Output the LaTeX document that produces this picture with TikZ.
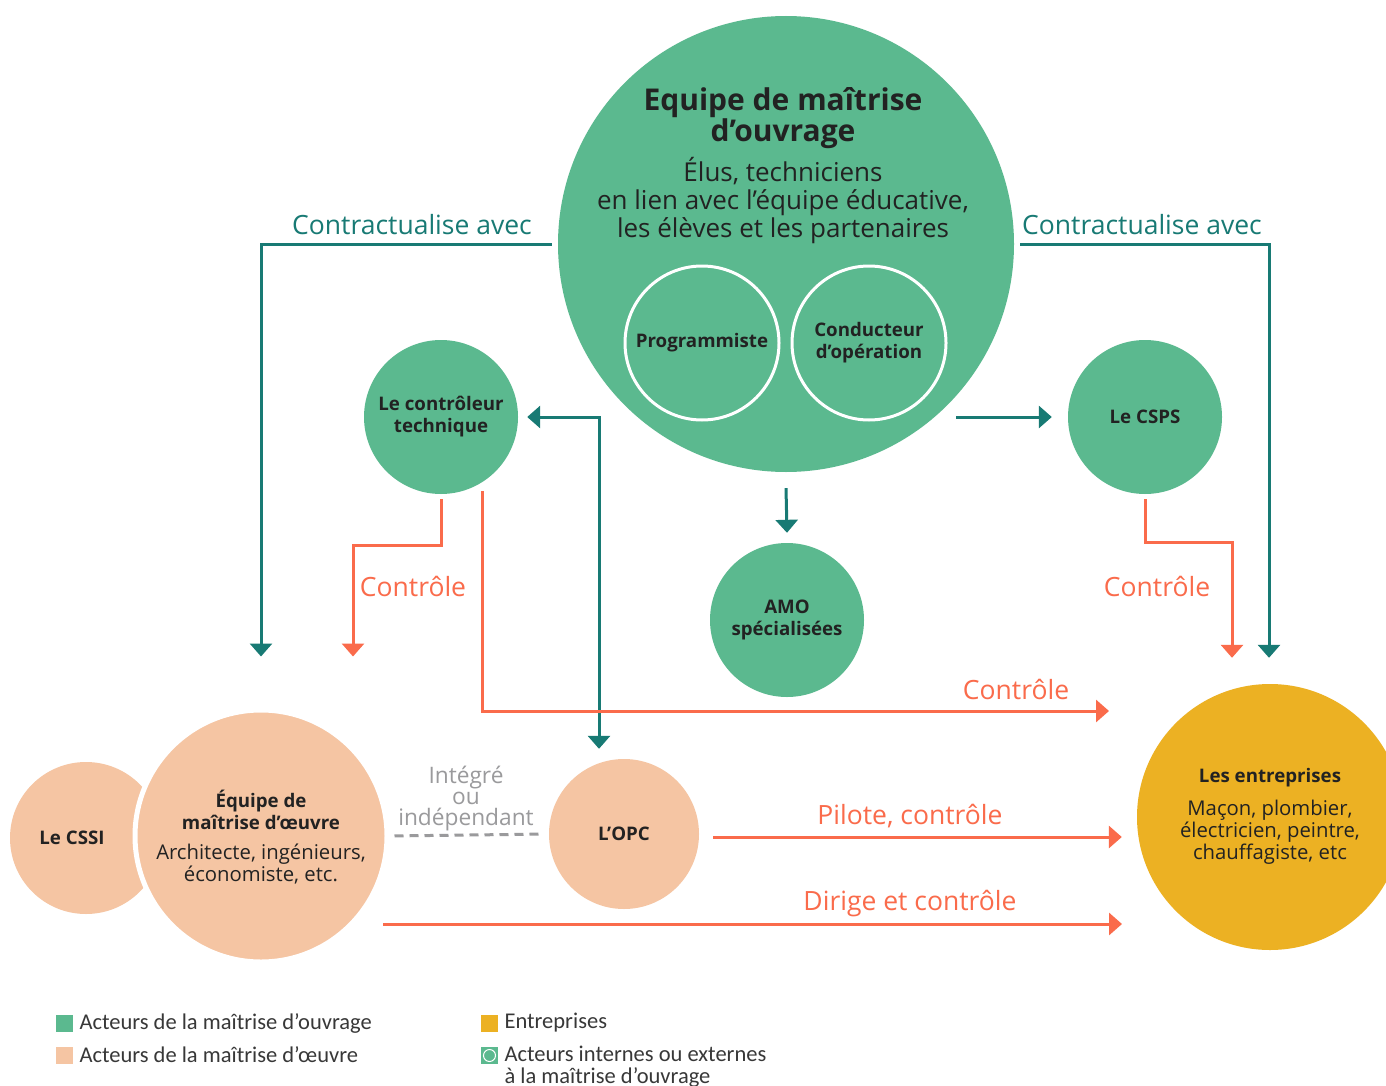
\documentclass[tikz,border=0pt]{standalone}
\usepackage{fontspec}
\setmainfont{Open Sans}
\newfontfamily\legendfont{Carlito}
\usetikzlibrary{arrows.meta}
\definecolor{vert}{HTML}{5BB98F}
\definecolor{sarcelle}{HTML}{187A74}
\definecolor{corail}{HTML}{FA6B4B}
\definecolor{peche}{HTML}{F5C5A3}
\definecolor{jaune}{HTML}{ECB123}
\definecolor{gristxt}{HTML}{9A9A9C}
\definecolor{encre}{HTML}{222222}
\begin{document}
\begin{tikzpicture}[x=1pt,y=-1pt,
  disc/.style={circle, inner sep=0pt, minimum size=#1, draw=none},
  tarrow/.style={draw=sarcelle, line width=3pt, -{Triangle[width=22pt,length=13pt]}},
  carrow/.style={draw=corail, line width=3pt, -{Triangle[width=22pt,length=13pt]}},
  tlbl/.style={text=sarcelle, font=\fontsize{26.5}{30}\selectfont},
  clbl/.style={text=corail, font=\fontsize{26.5}{30}\selectfont},
  btxt/.style={text=encre, align=center, font=\fontsize{18.7}{22}\selectfont\bfseries},
  ntxt/.style={text=encre, align=center, font=\fontsize{20.3}{22}\selectfont},
  legtxt/.style={text=encre!90, anchor=west, font=\legendfont\fontsize{22.5}{22}\selectfont},
  legsq/.style={minimum size=17pt, inner sep=0pt}
]
\clip (0,0) rectangle (1386,1086);
\fill[white] (0,0) rectangle (1386,1086);

% circles
\node[disc=456pt, fill=vert] (moa) at (786,244) {};
\node[disc=154pt, draw=white, line width=3pt] (prog) at (702,343) {};
\node[disc=154pt, draw=white, line width=3pt] (cond) at (869,343) {};
\node[disc=154pt, fill=vert] (ct) at (441,417) {};
\node[disc=154pt, fill=vert] (csps) at (1145,417) {};
\node[disc=154pt, fill=vert] (amo) at (787,620) {};
\node[disc=152pt, fill=peche] (cssi) at (86,838) {};
\node[disc=252pt, fill=peche, draw=white, line width=5pt] (moe) at (261,836) {};
\node[disc=150pt, fill=peche] (opc) at (624,834) {};
\node[disc=266pt, fill=jaune] (ent) at (1270,817) {};

% texts in circles
\node[text=encre, align=center, font=\fontsize{30}{27}\selectfont\bfseries] (moatitre) at (783,118) {Equipe de maîtrise\\d’ouvrage};
\node[text=encre, align=center, font=\fontsize{26}{28}\selectfont] (moasous) at (783,201) {Élus, techniciens\\en lien avec l’équipe éducative,\\les élèves et les partenaires};
\node[btxt] (progt) at (prog) {Programmiste};
\node[btxt] (condt) at (cond) {Conducteur\\d’opération};
\node[btxt] (ctt) at (ct) {Le contrôleur\\technique};
\node[btxt] (cspst) at (csps) {Le CSPS};
\node[btxt] (amot) at (amo) {AMO\\spécialisées};
\node[btxt] (cssit) at (72,838) {Le CSSI};
\node[btxt] (moet1) at (261,810) {Équipe de\\maîtrise d’œuvre};
\node[ntxt] (moet2) at (261,864) {Architecte, ingénieurs,\\économiste, etc.};
\node[btxt] (opct) at (opc) {L’OPC};
\node[btxt] (entt1) at (1270,778) {Les entreprises};
\node[ntxt] (entt2) at (1270,832) {Maçon, plombier,\\électricien, peintre,\\chauffagiste, etc};

% coordinates for free ends
\coordinate (ctout) at (482,491);
\coordinate (ctend) at (1109,711);
\coordinate (dstart) at (383,924);
\coordinate (dend) at (1122,924);
\coordinate (cspsin) at (956,417);

% teal connectors
\draw[tarrow] ([xshift=-6pt]moa.west) -| ([yshift=51pt]moe.north);
\draw[tarrow] ([xshift=6pt]moa.east) -| ([xshift=-1pt,yshift=26pt]ent.north);
\draw[draw=sarcelle, line width=3pt, {Triangle[width=22pt,length=13pt]}-{Triangle[width=22pt,length=13pt]}]
  ([xshift=9pt]ct.east) -| ([xshift=-25pt,yshift=10pt]opc.north);
\draw[tarrow] (cspsin) -- ([xshift=-16pt]csps.west);
\draw[tarrow] ([yshift=-16pt]moa.south) -- ([yshift=10pt]amo.north);

% coral connectors
\draw[carrow] ([yshift=-5pt]ct.south) -- ++(0,46) -| ([xshift=92pt,yshift=51pt]moe.north);
\draw[carrow] (ctout) |- (ctend);
\draw[carrow] ([yshift=-5pt]csps.south) -- ++(0,43) -| ([xshift=-38pt,yshift=26pt]ent.north);
\draw[carrow, shorten <=14pt, shorten >=15pt] ([yshift=-3pt]opc.east) -- ([yshift=-3pt]opc.east -| ent.west);
\draw[carrow] (dstart) -- (dend);
\draw[draw=gristxt, line width=3pt, dash pattern=on 9pt off 6pt, shorten <=5pt, shorten >=8pt] (moe.east) -- (opc.west);

% connector labels
\node[tlbl] (l1) at (412,225) {Contractualise avec};
\node[tlbl] (l2) at (1142,225) {Contractualise avec};
\node[clbl] (l3) at (413,586) {Contrôle};
\node[clbl] (l4) at (1157,586) {Contrôle};
\node[clbl] (l5) at (1016,689) {Contrôle};
\node[clbl] (l6) at (910,816) {Pilote, contrôle};
\node[clbl] (l7) at (910,904) {Dirige et contrôle};
\node[text=gristxt, align=center, font=\fontsize{22.7}{21}\selectfont] (l8) at (466,799) {Intégré\\ou\\indépendant};

% legend
\node[legsq, fill=vert] (sq1) at (64.5,1023.5) {};
\node[legtxt] (t1) at (76,1023) {Acteurs de la maîtrise d’ouvrage};
\node[legsq, fill=peche] (sq2) at (64.5,1055.5) {};
\node[legtxt] (t2) at (76,1055) {Acteurs de la maîtrise d’œuvre};
\node[legsq, fill=jaune] (sq3) at (489.5,1023.5) {};
\node[legtxt] (t3) at (501,1023) {Entreprises};
\node[legsq, fill=vert] (sq4) at (489.5,1055.5) {};
\node[circle, draw=white, line width=1pt, minimum size=12pt, inner sep=0pt] (sq4c) at (sq4) {};
\node[legtxt, align=left, anchor=north west] (t4) at (501,1042) {Acteurs internes ou externes\\à la maîtrise d’ouvrage};
\end{tikzpicture}
\end{document}
